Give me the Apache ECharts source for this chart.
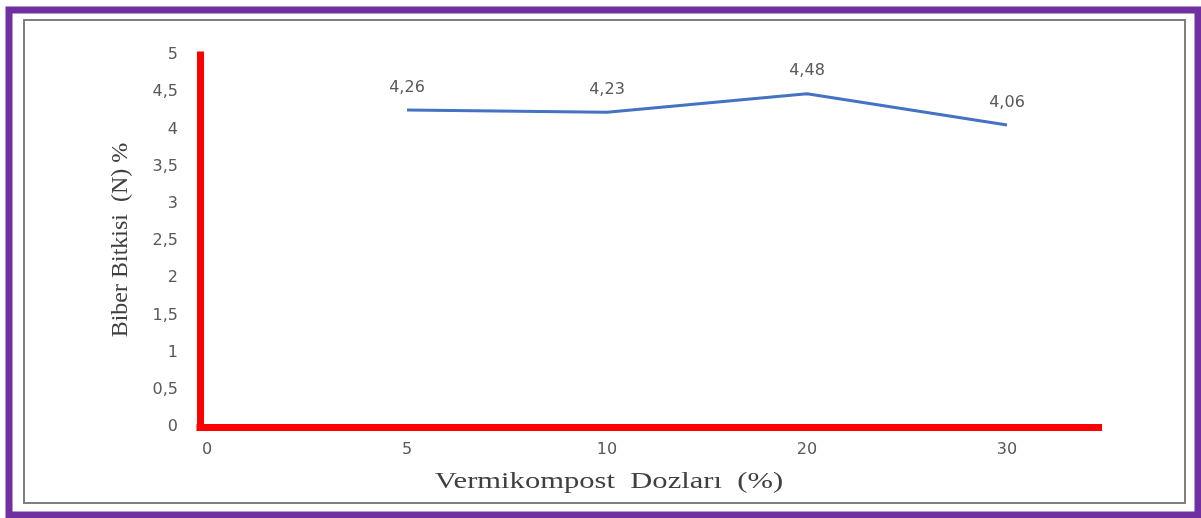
<!DOCTYPE html>
<html>
<head>
<meta charset="utf-8">
<script src="https://cdn.jsdelivr.net/npm/echarts@6/dist/echarts.min.js"></script>
<style>
html,body{margin:0;padding:0;background:#fff;}
#chart{width:1201px;height:518px;}
</style>
</head>
<body>
<div id="chart"></div>
<script>
var xCats = ['0', '5', '10', '20', '30'];
var nValues = [null, 4.26, 4.23, 4.48, 4.06];
var yTicks = [0, 0.5, 1, 1.5, 2, 2.5, 3, 3.5, 4, 4.5, 5];
var yTitle = 'Biber Bitkisi  (N) %';
var xTitle = 'Vermikompost  Dozları  (%)';

function comma(v) {
	return String(v).replace('.', ',');
}

var lineData = [];
var xPos = [];
for (var i = 0; i < xCats.length; i++) {
	xPos.push(i);
	if (nValues[i] != null) lineData.push([i, nValues[i]]);
}

var myChart = echarts.init(document.getElementById('chart'));
var option = {
	backgroundColor: '#fff',
	animation: false,
	grid: { left: 200, right: 102.5, top: 55, bottom: 91 },
	xAxis: {
		type: 'value',
		min: -0.035,
		max: 4.4575,
		splitLine: { show: false },
		axisTick: { show: false },
		axisLine: { show: true, onZero: false, lineStyle: { color: '#ff0000', width: 7, cap: 'square' } },
		axisLabel: {
			customValues: xPos,
			margin: 15,
			color: '#595959',
			fontSize: 16,
			fontFamily: 'DejaVu Sans',
			formatter: function (v) {
				return xCats[Math.round(v)];
			}
		}
	},
	yAxis: {
		type: 'value',
		min: yTicks[0],
		max: yTicks[yTicks.length - 1],
		interval: 0.5,
		splitLine: { show: false },
		axisTick: { show: false },
		axisLine: { show: true, onZero: false, lineStyle: { color: '#ff0000', width: 7, cap: 'square' } },
		axisLabel: {
			margin: 22,
			color: '#595959',
			fontSize: 16,
			fontFamily: 'DejaVu Sans',
			formatter: function (v) { return comma(v); }
		}
	},
	series: [{
		type: 'line',
		data: lineData,
		showSymbol: true,
		symbol: 'circle',
		symbolSize: 1,
		itemStyle: { color: 'rgba(0,0,0,0)' },
		lineStyle: { color: '#4472c4', width: 3 },
		label: {
			show: true,
			position: 'top',
			distance: 14,
			color: '#595959',
			fontSize: 16,
			fontFamily: 'DejaVu Sans',
			formatter: function (p) { return comma(p.value[1]); }
		}
	}],
	graphic: [
		{
			type: 'rect',
			shape: { x: 9, y: 10, width: 1189, height: 505 },
			style: { fill: 'none', stroke: '#7030a0', lineWidth: 7 },
			silent: true
		},
		{
			type: 'rect',
			shape: { x: 24, y: 20, width: 1161, height: 483 },
			style: { fill: 'none', stroke: '#7f7f7f', lineWidth: 2 },
			silent: true
		},
		{
			type: 'text',
			x: 121,
			y: 240,
			rotation: Math.PI / 2,
			style: {
				text: yTitle,
				font: '24px "Liberation Serif"',
				fill: '#404040',
				align: 'center',
				verticalAlign: 'middle'
			}
		},
		{
			type: 'text',
			x: 609,
			y: 482,
			scaleX: 1.33,
			style: {
				text: xTitle,
				font: '23px "Liberation Serif"',
				fill: '#404040',
				align: 'center',
				verticalAlign: 'middle'
			}
		}
	]
};
myChart.setOption(option);
</script>
</body>
</html>
